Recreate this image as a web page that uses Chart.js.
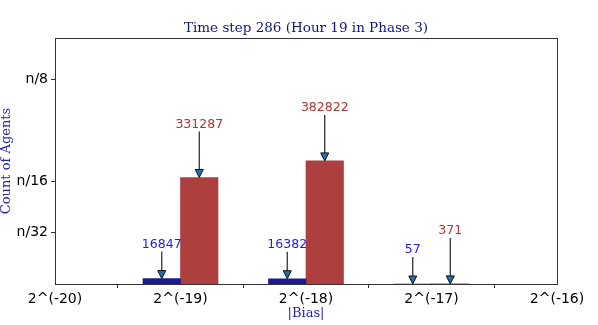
<!DOCTYPE html>
<html>
<head>
<meta charset="utf-8">
<script src="https://cdn.jsdelivr.net/npm/chart.js@4.4.1/dist/chart.umd.min.js"></script>
<style>
  html, body { margin: 0; padding: 0; background: #fff; }
  #wrap { width: 598px; height: 325px; }
</style>
</head>
<body>
<div id="wrap"><canvas id="biasChart"></canvas></div>
<script>
// histogram of |bias| per power-of-two bin, two groups
const exponents = [-20, -19, -18, -17, -16];
const binLabels = exponents.map(e => `2^(${e})`);
const blueCounts = [null, 16847, 16382, 57, null];
const redCounts = [null, 331287, 382822, 371, null];

// y ticks are fractions of the total agent count n
const N_AGENTS = 5100000;
const yTickFractions = [1 / 32, 1 / 16, 1 / 8];
const yTickLabels = ['n/32', 'n/16', 'n/8'];
const Y_MAX = 0.15 * N_AGENTS;

const TITLE = 'Time step 286 (Hour 19 in Phase 3)';
const BLUE_BAR = '#1c1c8e';
const RED_BAR = '#ae3f3f';
const BLUE_TEXT = '#1a1aff';
const RED_TEXT = '#b03535';

// arrows + count labels above each bar
const annotatePlugin = {
  id: 'annotate',
  afterDatasetsDraw(chart) {
    const ctx = chart.ctx;
    const yScale = chart.scales.y;
    chart.data.datasets.forEach((ds, di) => {
      const meta = chart.getDatasetMeta(di);
      const lift = di === 0 ? 34 : 53;
      ds.data.forEach((v, i) => {
        if (v == null) return;
        const x = meta.data[i].x;
        const tipY = yScale.getPixelForValue(v);
        const textY = tipY - lift;

        ctx.save();
        ctx.strokeStyle = '#222';
        ctx.lineWidth = 1.2;
        ctx.beginPath();
        ctx.moveTo(x, textY + 7);
        ctx.lineTo(x, tipY - 7);
        ctx.stroke();

        ctx.beginPath();
        ctx.moveTo(x - 4, tipY - 8);
        ctx.lineTo(x + 4, tipY - 8);
        ctx.lineTo(x, tipY);
        ctx.closePath();
        ctx.fillStyle = '#1f6fae';
        ctx.fill();
        ctx.lineWidth = 1;
        ctx.strokeStyle = '#111';
        ctx.stroke();

        ctx.fillStyle = di === 0 ? BLUE_TEXT : RED_TEXT;
        ctx.font = '12.5px "DejaVu Sans"';
        ctx.textAlign = 'center';
        ctx.textBaseline = 'middle';
        ctx.fillText(String(v), x, textY);
        ctx.restore();
      });
    });
  }
};

// frame around plot area + title centred over the axes
const framePlugin = {
  id: 'frame',
  afterDraw(chart) {
    const { ctx, chartArea: a } = chart;
    ctx.save();
    ctx.strokeStyle = '#333';
    ctx.lineWidth = 1;
    ctx.strokeRect(Math.round(a.left) + 0.5, Math.round(a.top) + 0.5,
      Math.round(a.right - a.left), Math.round(a.bottom - a.top));

    ctx.fillStyle = '#14147e';
    ctx.font = '13.5px "DejaVu Serif"';
    ctx.textAlign = 'center';
    ctx.textBaseline = 'middle';
    ctx.fillText(TITLE, (a.left + a.right) / 2, 28);
    ctx.restore();
  }
};

new Chart(document.getElementById('biasChart'), {
  type: 'bar',
  data: {
    labels: binLabels,
    datasets: [
      { data: blueCounts, backgroundColor: BLUE_BAR, borderWidth: 0, barThickness: 37.5 },
      { data: redCounts, backgroundColor: RED_BAR, borderWidth: 0, barThickness: 37.5 }
    ]
  },
  options: {
    responsive: true,
    maintainAspectRatio: false,
    animation: false,
    layout: { padding: { left: 0, right: 41, top: 38, bottom: 0 } },
    plugins: {
      legend: { display: false },
      tooltip: { enabled: false },
      title: { display: false }
    },
    scales: {
      x: {
        offset: false,
        grid: { drawOnChartArea: false, tickLength: 4, color: '#333' },
        border: { display: false },
        ticks: { color: '#000', padding: 3, maxRotation: 0, font: { family: '"DejaVu Sans"', size: 14 } },
        title: {
          display: true, text: '|Bias|', color: '#2424b4',
          font: { family: '"DejaVu Serif"', size: 13, lineHeight: 1 },
          padding: { top: 0, bottom: 5 }
        },
        afterFit(scale) { scale.height = 41; }
      },
      y: {
        min: 0,
        max: Y_MAX,
        grid: { drawOnChartArea: false, tickLength: 4, color: '#333' },
        border: { display: false },
        afterBuildTicks(scale) {
          scale.ticks = yTickFractions.map(f => ({ value: f * N_AGENTS }));
        },
        ticks: {
          color: '#000', padding: 3,
          font: { family: '"DejaVu Sans"', size: 14 },
          callback(value, index) { return yTickLabels[index]; }
        },
        title: {
          display: true, text: 'Count of Agents', color: '#2424b4',
          font: { family: '"DejaVu Serif"', size: 13, lineHeight: 1 },
          padding: { top: 0, bottom: 0 }
        },
        afterFit(scale) { scale.width = 55; }
      }
    }
  },
  plugins: [annotatePlugin, framePlugin]
});
</script>
</body>
</html>
